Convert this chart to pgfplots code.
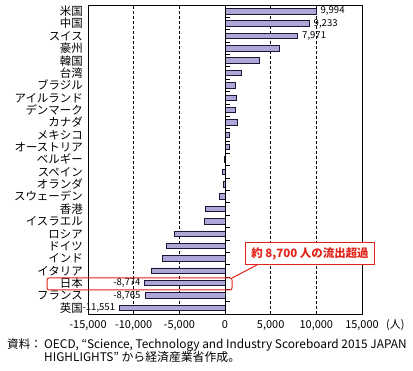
\documentclass[border=0pt]{standalone}
\usepackage{pgfplots}
\pgfplotsset{compat=1.18}
\usepackage{pgfplotstable}
\usepackage{fontspec}
\setmainfont{Noto Sans CJK JP}
\definecolor{barfill}{HTML}{ADA6D6}
\definecolor{bardraw}{HTML}{1E1433}
\definecolor{annred}{HTML}{E2231A}
\pgfplotstableread[col sep=semicolon]{
idx;val;lab;name
0;-11551;-11,551;英国
1;-8765;-8,765;フランス
2;-8774;-8,774;日本
3;-8070;;イタリア
4;-6860;;インド
5;-6380;;ドイツ
6;-5500;;ロシア
7;-2280;;イスラエル
8;-2170;;香港
9;-640;;スウェーデン
10;-200;;オランダ
11;-300;;スペイン
12;-80;;ベルギー
13;440;;オーストリア
14;440;;メキシコ
15;1320;;カナダ
16;1100;;デンマーク
17;1210;;アイルランド
18;1100;;ブラジル
19;1760;;台湾
20;3720;;韓国
21;6010;;豪州
22;7971;7,971;スイス
23;9233;9,233;中国
24;9994;9,994;米国
}\data
\begin{document}
\begin{tikzpicture}
\path[use as bounding box] (0,0) rectangle (413bp,371bp);
\begin{axis}[
  at={(88bp,57bp)}, anchor=south west,
  scale only axis, width=274bp, height=309bp,
  xbar, bar width=5.5bp,
  xmin=-15000, xmax=15000, ymin=-0.5, ymax=24.5,
  scaled x ticks=false,
  xtick={-15000,-10000,-5000,0,5000,10000,15000},
  xticklabels={{-15,000},{-10,000},{-5,000},0,{5,000},{10,000},{15,000}},
  ytick={0,...,24},
  yticklabels from table={\data}{name},
  major tick length=0pt,
  xmajorgrids,
  grid style={black, dash pattern=on 3bp off 2bp, line width=0.6bp},
  axis line style={line width=0.8bp},
  xticklabel style={font=\fontsize{11}{11}\selectfont, anchor=base, inner sep=0pt, yshift=-14.5bp},
  yticklabel style={font=\fontsize{11.5}{11.5}\selectfont, anchor=base east, inner sep=0pt, xshift=-5bp, yshift=-4.4bp},
  clip=false,
  nodes near coords,
  point meta=explicit symbolic,
  visualization depends on={\thisrow{val} \as \rawval},
  every node near coord/.append style={font=\fontsize{9.6}{9.6}\selectfont, inner xsep=4bp, inner ysep=0pt, text=black},
  every node near coord/.append code={\ifdim\rawval pt<0pt \pgfkeysalso{anchor=east}\else\pgfkeysalso{anchor=west}\fi},
]
\addplot[fill=barfill, draw=bardraw, line width=0.8bp] table[x=val, y=idx, meta=lab] {\data};
\draw[black, line width=0.8bp] (axis cs:0,-0.5) -- (axis cs:0,24.5);
\pgfplotsinvokeforeach{0,...,23}{\draw[black, line width=0.6bp] (axis cs:0,#1+0.5) -- (axis cs:550,#1+0.5);}
\end{axis}
\draw[annred, line width=1bp, rounded corners=2bp] (47bp,81bp) rectangle (232bp,93bp);
\draw[annred, line width=1bp] (232bp,93bp) -- (257bp,106bp);
\node[draw=annred, line width=1bp, fill=white, minimum width=129bp, minimum height=22bp, anchor=south west, inner sep=0pt, text=annred, font=\fontsize{11.5}{11.5}\selectfont\bfseries] at (245bp,106bp) {約 8,700 人の流出超過};
\node[anchor=base west, inner sep=0pt, font=\fontsize{11}{11}\selectfont] at (386bp,42.5bp) {(人)};
\node[anchor=base west, inner sep=0pt, font=\fontsize{11.6}{11.6}\selectfont] at (7bp,23bp) {資料：};
\node[anchor=base west, inner sep=0pt, font=\fontsize{11.9}{11.9}\selectfont] at (44bp,23bp) {OECD, “Science, Technology and Industry Scoreboard 2015 JAPAN};
\node[anchor=base west, inner sep=0pt, font=\fontsize{11.9}{11.9}\selectfont] at (44bp,10bp) {HIGHLIGHTS” から経済産業省作成。};
\end{tikzpicture}
\end{document}
